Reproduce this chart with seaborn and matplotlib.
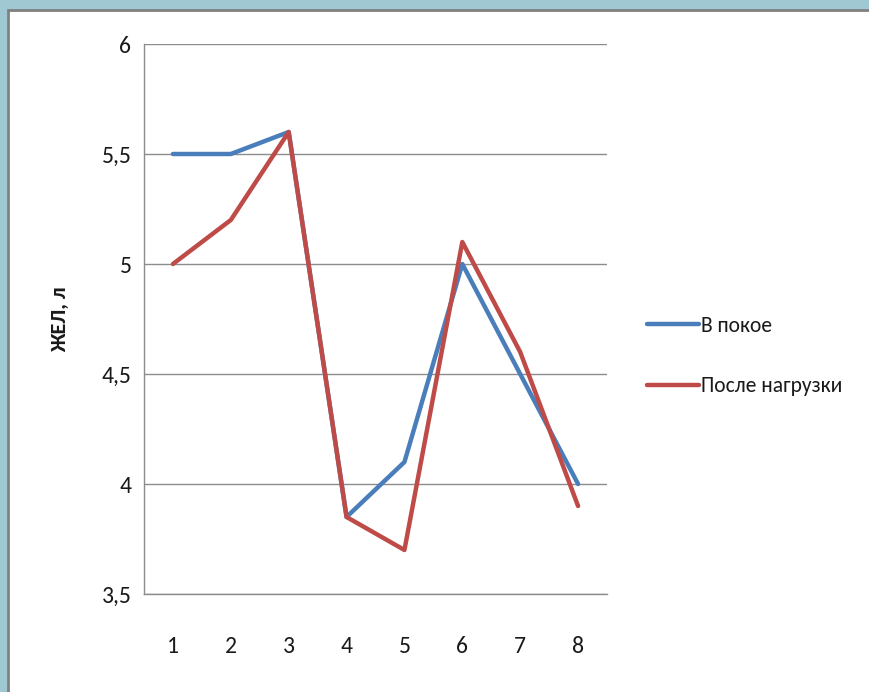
import matplotlib
matplotlib.use("Agg")
import matplotlib.pyplot as plt
import seaborn as sns
import pandas as pd
from matplotlib.patches import Rectangle
from matplotlib.lines import Line2D

categories = [1, 2, 3, 4, 5, 6, 7, 8]
rest = [5.5, 5.5, 5.6, 3.85, 4.1, 5.0, 4.5, 4.0]
after = [5.0, 5.2, 5.6, 3.85, 3.7, 5.1, 4.6, 3.9]
series_names = ["В покое", "После нагрузки"]
yticks = [3.5, 4, 4.5, 5, 5.5, 6]
ytick_labels = ["3,5", "4", "4,5", "5", "5,5", "6"]
ylabel = "ЖЕЛ, л"
colors = ["#4A7EBB", "#BE4B48"]

df = pd.DataFrame({
    "x": categories * 2,
    "y": rest + after,
    "series": [series_names[0]] * len(categories) + [series_names[1]] * len(categories),
})

sns.set_style("white")
fonts = ['Carlito', 'PT Sans Narrow', 'Roboto Condensed', 'Liberation Sans Narrow',
         'Liberation Sans', 'DejaVu Sans']
plt.rcParams['font.family'] = fonts

fig = plt.figure(figsize=(8.69, 6.92), dpi=100)
fig.patch.set_facecolor("#9fc8d3")
fig.patches.append(Rectangle((8/869, -0.01), 1, 1.01 - 10/692, transform=fig.transFigure,
                             facecolor="white", edgecolor="#808080", linewidth=2, zorder=-10))

ax = fig.add_axes([144/869, 1 - 594/692, (607 - 144)/869, (594 - 44)/692])
ax.set_zorder(5)
ax.set_facecolor("none")
sns.lineplot(data=df, x="x", y="y", hue="series", palette=colors, linewidth=3.2,
             ax=ax, legend=False)

ax.set_xlim(0.5, 8.5)
ax.set_ylim(3.5, 6)
ax.set_xticks(categories)
ax.set_xticklabels([str(c) for c in categories], fontsize=17, color="#1a1a1a")
ax.set_yticks(yticks)
ax.set_yticklabels(ytick_labels, fontsize=17, color="#1a1a1a")
ax.tick_params(axis="x", pad=30, length=0)
ax.tick_params(axis="y", pad=9, length=0)
ax.yaxis.grid(True, color="#8c8c8c", linewidth=1)
ax.set_axisbelow(True)
for s in ["top", "right"]:
    ax.spines[s].set_visible(False)
for s in ["left", "bottom"]:
    ax.spines[s].set_color("#8c8c8c")
    ax.spines[s].set_linewidth(1)
ax.set_xlabel("")
ax.set_ylabel(ylabel, fontsize=16, fontweight="bold", color="#1a1a1a")
ax.yaxis.set_label_coords(-0.16, 0.5)

handles = [Line2D([0], [0], color=c, linewidth=3.2) for c in colors]
leg = fig.legend(handles, series_names, loc="center left", bbox_to_anchor=(628/869, 1 - 356/692),
                 frameon=False, fontsize=15.5, handlelength=2.4, handletextpad=0.1,
                 labelspacing=1.9)
for t in leg.get_texts():
    t.set_color("#1a1a1a")
leg.set_zorder(6)

fig.savefig("out.png", dpi=100, facecolor=fig.get_facecolor())
